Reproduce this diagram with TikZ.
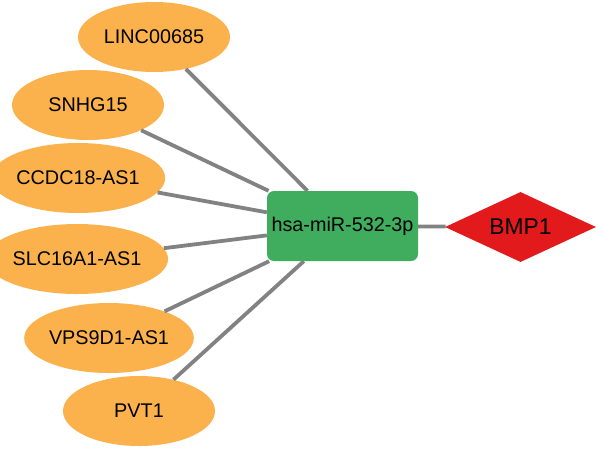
\documentclass[tikz,border=0pt]{standalone}
\usepackage{fontspec}
\setmainfont{Liberation Sans}
\usetikzlibrary{shapes.geometric}
\definecolor{lncorange}{RGB}{251,178,76}
\definecolor{mirgreen}{RGB}{64,173,94}
\definecolor{genered}{RGB}{227,26,28}
\definecolor{edgegray}{RGB}{130,130,130}
\tikzset{
  lnc/.style={ellipse, fill=lncorange, minimum width=152pt, minimum height=70pt, inner sep=0pt, font=\fontsize{19.8}{22}\selectfont},
  mir/.style={rectangle, rounded corners=7pt, fill=mirgreen, minimum width=151pt, minimum height=70pt, inner sep=0pt, font=\fontsize{19.8}{22}\selectfont},
  gene/.style={diamond, fill=genered, aspect=2.16, minimum width=151pt, minimum height=70pt, inner sep=0pt, font=\fontsize{22.8}{26}\selectfont},
  link/.style={draw=edgegray, line width=3.8pt}
}
\begin{document}
\begin{tikzpicture}[x=1pt,y=-1pt]
\useasboundingbox (0,0) rectangle (597,448);
\node[lnc] (l1) at (154,37) {LINC00685};
\node[lnc] (l2) at (88,105) {SNHG15};
\node[lnc] (l3) at (78,178) {CCDC18-AS1};
\node[lnc] (l4) at (77,259) {SLC16A1-AS1};
\node[lnc] (l5) at (109,338) {VPS9D1-AS1};
\node[lnc] (l6) at (139,411) {PVT1};
\node[mir] (m) at (342.5,226) {hsa-miR-532-3p};
\node[gene] (g) at (520.5,227) {BMP1};
\foreach \n in {l1,l2,l3,l4,l5,l6} {\draw[link] (\n) -- (m);}
\draw[link] (m) -- (g);
\end{tikzpicture}
\end{document}
